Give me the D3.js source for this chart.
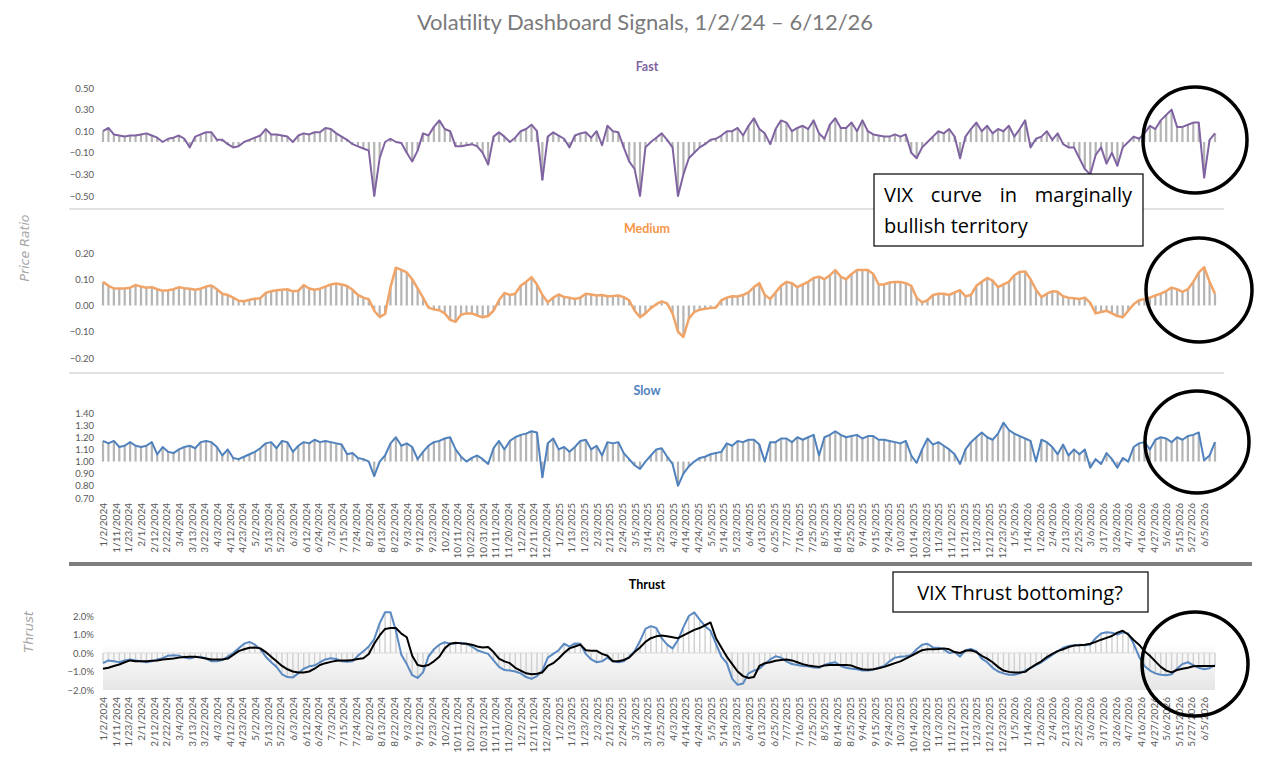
<!DOCTYPE html>
<html><head><meta charset="utf-8">
<script src="https://cdn.jsdelivr.net/npm/d3@7"></script>
<style>
html,body{margin:0;padding:0;background:#fff;}
svg{display:block;}
</style></head>
<body>
<svg id="chart" width="1276" height="774"></svg>
<script>
// ---- DATA (one reading every 3 trading days, starting 1/2/2024) ----
const STEP = 3;          // trading days between readings
const TICK_EVERY = 7;    // trading days between axis labels

const tickLabels = ["1/2/2024","1/11/2024","1/23/2024","2/1/2024","2/12/2024","2/22/2024","3/4/2024","3/13/2024","3/22/2024","4/3/2024","4/12/2024","4/23/2024","5/2/2024","5/13/2024","5/22/2024","6/3/2024","6/12/2024","6/24/2024","7/3/2024","7/15/2024","7/24/2024","8/2/2024","8/13/2024","8/22/2024","9/3/2024","9/12/2024","9/23/2024","10/2/2024","10/11/2024","10/22/2024","10/31/2024","11/11/2024","11/20/2024","12/2/2024","12/11/2024","12/20/2024","1/2/2025","1/13/2025","1/23/2025","2/3/2025","2/12/2025","2/24/2025","3/5/2025","3/14/2025","3/25/2025","4/3/2025","4/14/2025","4/24/2025","5/5/2025","5/14/2025","5/23/2025","6/4/2025","6/13/2025","6/25/2025","7/7/2025","7/16/2025","7/25/2025","8/5/2025","8/14/2025","8/25/2025","9/4/2025","9/15/2025","9/24/2025","10/3/2025","10/14/2025","10/23/2025","11/3/2025","11/12/2025","11/21/2025","12/3/2025","12/12/2025","12/23/2025","1/5/2026","1/14/2026","1/26/2026","2/4/2026","2/13/2026","2/25/2026","3/6/2026","3/17/2026","3/26/2026","4/7/2026","4/16/2026","4/27/2026","5/6/2026","5/15/2026","5/27/2026","6/5/2026"];

const fastValues = [0.10,0.13,0.07,0.06,0.05,0.06,0.06,0.07,0.08,0.06,0.04,0.00,0.03,0.04,0.06,0.03,-0.05,0.05,0.07,0.09,
0.09,0.02,0.02,-0.02,-0.05,-0.04,0.00,0.02,0.04,0.06,0.12,0.07,0.07,0.06,0.05,0.00,0.06,0.08,0.07,0.09,
0.09,0.13,0.12,0.08,0.05,0.02,-0.02,-0.04,-0.06,-0.08,-0.50,-0.15,0.00,0.03,0.00,-0.01,-0.10,-0.18,-0.08,0.08,
0.06,0.14,0.20,0.12,0.10,-0.04,-0.04,-0.03,-0.02,-0.04,-0.10,-0.21,0.05,0.09,0.05,0.00,0.04,0.10,0.12,0.16,
0.10,-0.35,0.05,0.09,0.06,0.03,-0.05,0.06,0.08,0.09,0.04,0.10,-0.03,0.15,0.10,0.09,-0.05,-0.18,-0.25,-0.50,
-0.05,0.00,0.04,0.08,0.02,-0.05,-0.50,-0.30,-0.15,-0.10,-0.05,-0.02,0.02,0.03,0.06,0.10,0.10,0.13,0.06,0.15,
0.22,0.12,0.08,-0.02,0.12,0.20,0.18,0.10,0.13,0.15,0.12,0.20,0.08,0.03,0.16,0.22,0.13,0.13,0.18,0.10,
0.20,0.10,0.07,0.06,0.05,0.05,0.07,0.05,0.07,-0.10,-0.15,-0.05,0.00,0.05,0.10,0.08,0.12,0.05,-0.15,0.05,
0.12,0.18,0.10,0.15,0.08,0.12,0.10,0.15,0.05,0.12,0.20,-0.05,0.03,0.05,0.10,0.02,0.08,-0.02,-0.05,-0.05,
-0.15,-0.25,-0.30,-0.12,-0.05,-0.20,-0.10,-0.22,-0.05,0.00,0.05,0.03,0.08,0.15,0.12,0.20,0.25,0.30,0.14,0.14,
0.16,0.18,0.18,-0.33,0.02,0.08];

const mediumValues = [0.090,0.075,0.065,0.065,0.065,0.068,0.078,0.072,0.068,0.070,0.062,0.056,0.058,0.062,0.070,0.066,0.064,0.060,0.064,0.072,
0.076,0.062,0.045,0.040,0.030,0.018,0.016,0.022,0.026,0.028,0.048,0.054,0.058,0.060,0.062,0.054,0.056,0.078,0.065,0.060,
0.064,0.072,0.080,0.084,0.080,0.074,0.060,0.040,0.030,0.024,-0.020,-0.044,-0.032,0.070,0.144,0.136,0.126,0.100,0.065,0.030,
-0.008,-0.015,-0.018,-0.030,-0.055,-0.062,-0.035,-0.030,-0.030,-0.038,-0.045,-0.040,-0.020,0.020,0.048,0.040,0.045,0.075,0.090,0.108,
0.080,0.040,0.012,0.030,0.042,0.032,0.030,0.025,0.030,0.045,0.042,0.038,0.040,0.035,0.036,0.038,0.032,0.020,-0.020,-0.045,
-0.030,-0.010,0.005,0.016,0.008,-0.030,-0.100,-0.120,-0.050,-0.025,-0.016,-0.012,-0.010,-0.008,0.020,0.030,0.035,0.034,0.040,0.050,
0.070,0.085,0.040,0.025,0.050,0.075,0.090,0.085,0.070,0.080,0.090,0.105,0.110,0.100,0.115,0.135,0.110,0.100,0.120,0.135,
0.135,0.135,0.120,0.080,0.080,0.088,0.090,0.090,0.085,0.075,0.030,0.012,0.020,0.040,0.045,0.045,0.040,0.050,0.058,0.035,
0.040,0.075,0.090,0.105,0.095,0.070,0.080,0.090,0.115,0.128,0.130,0.100,0.060,0.032,0.045,0.054,0.052,0.035,0.030,0.028,
0.025,0.030,0.010,-0.030,-0.025,-0.020,-0.030,-0.040,-0.045,-0.020,0.005,0.020,0.025,0.030,0.038,0.045,0.055,0.068,0.062,0.052,
0.062,0.090,0.125,0.146,0.090,0.045];

const slowValues = [1.17,1.15,1.17,1.12,1.13,1.16,1.13,1.12,1.13,1.16,1.06,1.12,1.08,1.07,1.10,1.12,1.13,1.11,1.16,1.17,
1.16,1.12,1.05,1.10,1.03,1.02,1.04,1.06,1.08,1.11,1.15,1.16,1.11,1.17,1.16,1.08,1.13,1.16,1.15,1.18,
1.16,1.17,1.16,1.15,1.14,1.06,1.07,1.03,1.02,1.00,0.88,1.00,1.05,1.15,1.20,1.13,1.15,1.12,1.02,1.08,
1.13,1.16,1.17,1.19,1.20,1.10,1.04,1.00,1.03,1.05,1.02,0.98,1.11,1.17,1.10,1.17,1.20,1.22,1.23,1.25,
1.24,0.87,1.15,1.19,1.10,1.12,1.08,1.12,1.17,1.18,1.10,1.13,1.05,1.16,1.15,1.16,1.07,1.02,0.97,0.94,
1.00,1.05,1.10,1.11,1.04,0.98,0.80,0.90,0.96,1.00,1.03,1.04,1.06,1.07,1.08,1.15,1.13,1.17,1.16,1.18,
1.18,1.14,1.00,1.16,1.16,1.19,1.19,1.16,1.20,1.18,1.20,1.22,1.05,1.20,1.22,1.25,1.22,1.20,1.21,1.22,
1.19,1.21,1.21,1.18,1.18,1.17,1.16,1.15,1.17,1.05,0.99,1.10,1.19,1.14,1.16,1.13,1.10,1.06,0.98,1.10,
1.16,1.20,1.24,1.20,1.18,1.23,1.32,1.26,1.23,1.21,1.19,1.17,1.00,1.18,1.16,1.12,1.06,1.14,1.05,1.10,
1.06,1.10,0.95,1.02,0.98,1.07,1.02,0.95,1.03,1.00,1.12,1.15,1.16,1.10,1.18,1.20,1.19,1.16,1.20,1.18,
1.21,1.22,1.24,1.01,1.05,1.16];

// Thrust, in percent
const thrustFastValues = [-0.55,-0.40,-0.45,-0.50,-0.40,-0.35,-0.40,-0.45,-0.50,-0.45,-0.35,-0.28,-0.15,-0.12,-0.15,-0.25,-0.30,-0.22,-0.20,-0.30,
-0.45,-0.45,-0.38,-0.20,0.00,0.25,0.50,0.60,0.45,0.22,-0.20,-0.50,-0.75,-1.15,-1.30,-1.32,-1.10,-0.85,-0.72,-0.68,
-0.50,-0.35,-0.28,-0.32,-0.45,-0.48,-0.45,-0.15,0.10,0.35,0.75,1.60,2.20,2.20,1.20,-0.10,-0.60,-1.20,-1.35,-1.05,
-0.20,0.20,0.45,0.58,0.50,0.52,0.55,0.50,0.35,0.15,0.05,-0.05,-0.40,-0.75,-0.92,-0.95,-1.00,-1.10,-1.30,-1.40,
-1.25,-0.95,-0.25,-0.05,0.15,0.50,0.35,0.52,0.50,-0.05,-0.35,-0.50,-0.45,-0.25,-0.45,-0.50,-0.45,-0.20,0.10,0.65,
1.30,1.45,1.35,0.80,0.45,0.25,0.70,1.40,2.00,2.20,1.80,1.45,1.20,0.50,-0.20,-0.55,-1.40,-1.72,-1.65,-1.10,
-0.95,-0.85,-0.60,-0.35,-0.18,-0.25,-0.45,-0.60,-0.65,-0.70,-0.72,-0.78,-0.80,-0.65,-0.55,-0.50,-0.70,-0.80,-0.85,-0.88,
-0.95,-0.95,-0.90,-0.80,-0.70,-0.45,-0.25,-0.20,-0.18,-0.10,0.20,0.45,0.50,0.30,0.28,0.20,0.00,0.05,-0.20,0.15,
0.22,0.10,-0.30,-0.50,-0.80,-1.00,-1.10,-1.18,-1.18,-1.10,-0.95,-0.80,-0.65,-0.50,-0.30,-0.10,0.10,0.28,0.38,0.42,
0.45,0.42,0.45,0.80,1.05,1.12,1.10,1.00,1.12,1.05,0.50,-0.20,-0.70,-0.95,-1.10,-1.18,-1.20,-1.15,-0.85,-0.60,
-0.50,-0.65,-0.80,-0.88,-0.82,-0.65];

const thrustSlowValues = [-0.85,-0.80,-0.70,-0.62,-0.50,-0.40,-0.45,-0.45,-0.45,-0.42,-0.40,-0.35,-0.32,-0.30,-0.25,-0.22,-0.20,-0.20,-0.25,-0.30,
-0.35,-0.35,-0.35,-0.30,-0.10,0.10,0.20,0.28,0.30,0.25,0.05,-0.20,-0.45,-0.70,-0.88,-1.00,-1.05,-1.05,-1.00,-0.85,
-0.65,-0.55,-0.48,-0.42,-0.40,-0.40,-0.38,-0.33,-0.28,-0.05,0.50,0.95,1.30,1.35,1.35,1.05,0.85,-0.15,-0.65,-0.72,
-0.65,-0.45,-0.20,0.25,0.50,0.55,0.52,0.50,0.45,0.35,0.30,0.32,0.05,-0.30,-0.45,-0.55,-0.80,-0.95,-1.10,-1.15,
-1.12,-1.05,-0.70,-0.55,-0.30,0.00,0.25,0.35,0.45,0.15,0.12,0.12,-0.05,-0.15,-0.45,-0.45,-0.38,-0.25,0.05,0.30,
0.60,0.80,0.90,0.95,0.90,0.85,0.80,0.95,1.10,1.25,1.35,1.50,1.65,0.80,0.30,-0.20,-0.60,-1.00,-1.25,-1.35,
-1.30,-0.70,-0.55,-0.50,-0.42,-0.38,-0.35,-0.40,-0.50,-0.60,-0.68,-0.72,-0.75,-0.68,-0.65,-0.65,-0.65,-0.65,-0.68,-0.80,
-0.88,-0.90,-0.88,-0.82,-0.75,-0.65,-0.55,-0.45,-0.30,-0.15,0.00,0.15,0.20,0.20,0.22,0.25,0.20,0.05,0.00,0.12,
0.15,0.05,-0.15,-0.30,-0.50,-0.75,-0.95,-1.02,-1.05,-1.05,-1.02,-0.80,-0.62,-0.45,-0.22,-0.05,0.10,0.20,0.32,0.40,
0.42,0.45,0.50,0.60,0.72,0.82,0.92,1.10,1.20,1.00,0.70,0.45,0.10,-0.15,-0.45,-0.75,-0.95,-1.05,-0.92,-0.85,
-0.80,-0.72,-0.70,-0.70,-0.70,-0.70];

const fastTicks = [0.5,0.3,0.1,-0.1,-0.3,-0.5];
const mediumTicks = [0.2,0.1,0,-0.1,-0.2];
const slowTicks = [1.4,1.3,1.2,1.1,1.0,0.9,0.8,0.7];
const thrustTicks = [2,1,0,-1,-2];

// ---- DRAWING ----
const svg = d3.select("#chart");
const FONT = "Lato, 'Open Sans', sans-serif";
const lastIndex = (fastValues.length - 1) * STEP;
const x = d3.scaleLinear().domain([0, lastIndex]).range([103, 1215]);

svg.append("text").attr("x", 645).attr("y", 30).attr("text-anchor", "middle")
  .attr("font-family", FONT).attr("font-size", 22).attr("fill", "#7a7a7a")
  .text("Volatility Dashboard Signals, 1/2/24 \u2013 6/12/26");

function panel(opts) {
  const {values, domain, range, base, ticks, fmt, color, title, titleY, lw, barColor, barW} = opts;
  const y = d3.scaleLinear().domain(domain).range(range);
  const g = svg.append("g");
  const pts = values.map((v, j) => ({i: j * STEP, v}));
  g.selectAll("rect.bar").data(pts).join("rect")
    .attr("x", d => x(d.i) - barW / 2)
    .attr("width", barW)
    .attr("y", d => Math.min(y(d.v), y(base)))
    .attr("height", d => Math.abs(y(d.v) - y(base)))
    .attr("fill", barColor);
  g.append("path").datum(pts)
    .attr("d", d3.line().x(d => x(d.i)).y(d => y(d.v)))
    .attr("fill", "none").attr("stroke", color).attr("stroke-width", lw)
    .attr("stroke-linejoin", "round");
  const ax = d3.axisLeft(y).tickValues(ticks).tickFormat(fmt).tickSize(0).tickPadding(0);
  const ag = svg.append("g").attr("transform", "translate(94,0)").call(ax);
  ag.select(".domain").remove();
  ag.selectAll("text").attr("font-family", FONT).attr("font-size", 9.5).attr("fill", "#595959");
  svg.append("text").attr("x", 647).attr("y", titleY).attr("text-anchor", "middle")
    .attr("font-family", FONT).attr("font-weight", "bold").attr("font-size", 12.5)
    .attr("fill", opts.titleColor || color).text(title);
  return y;
}

panel({values: fastValues, domain: [-0.5, 0.5], range: [196, 88], base: 0, ticks: fastTicks,
  fmt: d3.format(".2f"), color: "#8064a2", title: "Fast", titleY: 71, lw: 2, barColor: "#b4b4b4", barW: 2.2});
panel({values: mediumValues, domain: [-0.2, 0.2], range: [358, 253], base: 0, ticks: mediumTicks,
  fmt: d3.format(".2f"), color: "#f0a468", titleColor: "#f79646", title: "Medium", titleY: 233, lw: 2.5, barColor: "#b4b4b4", barW: 2.2});
panel({values: slowValues, domain: [0.7, 1.4], range: [498, 413], base: 1.0, ticks: slowTicks,
  fmt: d3.format(".2f"), color: "#4f81bd", title: "Slow", titleY: 395, lw: 2, barColor: "#b4b4b4", barW: 2.2});

// separators
svg.append("line").attr("x1", 69).attr("x2", 1224).attr("y1", 209).attr("y2", 209).attr("stroke", "#d9d9d9").attr("stroke-width", 1.5);
svg.append("line").attr("x1", 69).attr("x2", 1224).attr("y1", 373).attr("y2", 373).attr("stroke", "#d9d9d9").attr("stroke-width", 1.5);
svg.append("line").attr("x1", 69).attr("x2", 1252).attr("y1", 564).attr("y2", 564).attr("stroke", "#7f7f7f").attr("stroke-width", 4);

// x axes
function xAxis(yTop) {
  const ax = d3.axisBottom(x).tickValues(tickLabels.map((_, k) => k * TICK_EVERY))
    .tickFormat((d, k) => tickLabels[k]).tickSize(0).tickPadding(0);
  const g = svg.append("g").attr("transform", `translate(0,${yTop})`).call(ax);
  g.select(".domain").remove();
  g.selectAll("text").attr("transform", "rotate(-90)").attr("text-anchor", "end")
    .attr("x", 0).attr("y", 0).attr("dx", 0).attr("dy", "0.35em")
    .attr("font-family", FONT).attr("font-size", 10).attr("fill", "#595959");
}
xAxis(503);

// Thrust panel
const yT = d3.scaleLinear().domain([-2, 2]).range([690, 616]);
const defs = svg.append("defs");
const grad = defs.append("linearGradient").attr("id", "tg").attr("x1", 0).attr("x2", 0).attr("y1", 0).attr("y2", 1);
grad.append("stop").attr("offset", "0%").attr("stop-color", "#ffffff");
grad.append("stop").attr("offset", "100%").attr("stop-color", "#e6e6e6");
svg.append("rect").attr("x", x(0)).attr("width", x(lastIndex) - x(0))
  .attr("y", yT(0.6)).attr("height", yT(-2) - yT(0.6)).attr("fill", "url(#tg)");
const tpts = thrustFastValues.map((v, j) => ({i: j * STEP, v, s: thrustSlowValues[j]}));
svg.append("g").selectAll("rect").data(tpts).join("rect")
  .attr("x", d => x(d.i) - 0.7).attr("width", 1.4)
  .attr("y", d => Math.min(yT(d.v), yT(0))).attr("height", d => Math.abs(yT(d.v) - yT(0)))
  .attr("fill", "#cfcfcf");
svg.append("line").attr("x1", x(0)).attr("x2", x(lastIndex)).attr("y1", yT(0)).attr("y2", yT(0)).attr("stroke", "#d9d9d9").attr("stroke-width", 1);
svg.append("path").datum(tpts).attr("d", d3.line().x(d => x(d.i)).y(d => yT(d.v)))
  .attr("fill", "none").attr("stroke", "#5b8ac2").attr("stroke-width", 2).attr("stroke-linejoin", "round");
svg.append("path").datum(tpts).attr("d", d3.line().x(d => x(d.i)).y(d => yT(d.s)))
  .attr("fill", "none").attr("stroke", "#000").attr("stroke-width", 2).attr("stroke-linejoin", "round");
{
  const ax = d3.axisLeft(yT).tickValues(thrustTicks).tickFormat(d => d3.format(".1f")(d) + "%").tickSize(0).tickPadding(0);
  const ag = svg.append("g").attr("transform", "translate(94,0)").call(ax);
  ag.select(".domain").remove();
  ag.selectAll("text").attr("font-family", FONT).attr("font-size", 9.5).attr("fill", "#595959");
}
svg.append("text").attr("x", 647).attr("y", 589).attr("text-anchor", "middle")
  .attr("font-family", FONT).attr("font-weight", "bold").attr("font-size", 12.5).attr("fill", "#000").text("Thrust");
xAxis(697);

// Axis titles
svg.append("text").attr("transform", "translate(29,248) rotate(-90)").attr("text-anchor", "middle")
  .attr("font-family", "'DejaVu Sans', sans-serif").attr("font-style", "italic").attr("font-size", 12.5)
  .attr("fill", "#a6a6a6").text("Price Ratio");
svg.append("text").attr("transform", "translate(33,632) rotate(-90)").attr("text-anchor", "middle")
  .attr("font-family", "'DejaVu Sans', sans-serif").attr("font-style", "italic").attr("font-size", 13)
  .attr("fill", "#a6a6a6").text("Thrust");

// Annotation boxes
svg.append("rect").attr("x", 874).attr("y", 174).attr("width", 269).attr("height", 72)
  .attr("fill", "#fff").attr("stroke", "#000").attr("stroke-width", 1.2);
const l1 = svg.append("text").attr("x", 884).attr("y", 202).attr("font-family", "'Open Sans', sans-serif")
  .attr("font-size", 20).attr("fill", "#000").text("VIX curve in marginally");
const w1 = l1.node().getComputedTextLength();
l1.attr("word-spacing", (248 - w1) / 3);
svg.append("text").attr("x", 884).attr("y", 233).attr("font-family", "'Open Sans', sans-serif")
  .attr("font-size", 20).attr("fill", "#000").text("bullish territory");

svg.append("rect").attr("x", 893).attr("y", 572).attr("width", 255).attr("height", 40)
  .attr("fill", "#fff").attr("stroke", "#000").attr("stroke-width", 1.2);
svg.append("text").attr("x", 1020).attr("y", 600).attr("text-anchor", "middle").attr("font-family", "'Open Sans', sans-serif")
  .attr("font-size", 20).attr("fill", "#000").text("VIX Thrust bottoming?");

// Highlight ellipses
[[1195,140,52,53],[1199,290,53,52],[1197,442,52,51],[1195,664,53,52]].forEach(([cx,cy,rx,ry]) => {
  svg.append("ellipse").attr("cx", cx).attr("cy", cy).attr("rx", rx).attr("ry", ry)
    .attr("fill", "none").attr("stroke", "#000").attr("stroke-width", 3.5);
});
</script>
</body></html>
